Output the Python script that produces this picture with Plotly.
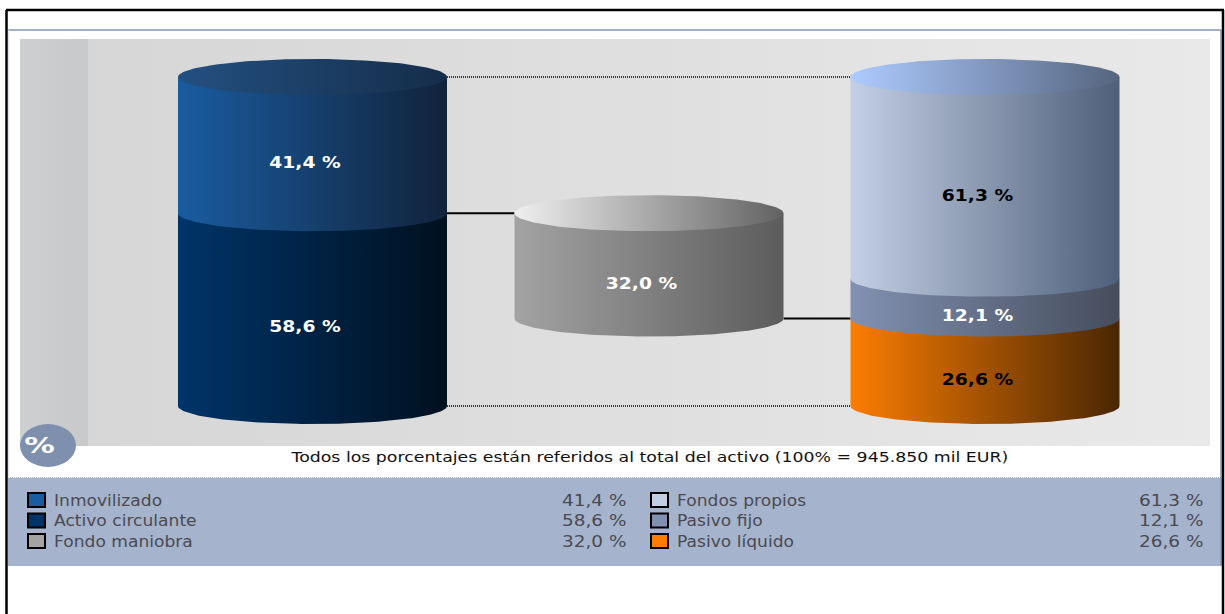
import numpy as np
import plotly.graph_objects as go

# ---- data ----
left_names = ["Inmovilizado", "Activo circulante"]
left_values = [41.4, 58.6]
middle_names = ["Fondo maniobra"]
middle_values = [32.0]
right_names = ["Fondos propios", "Pasivo fijo", "Pasivo líquido"]
right_values = [61.3, 12.1, 26.6]
note = "Todos los porcentajes están referidos al total del activo (100% = 945.850 mil EUR)"

# ---- styles ----
SIDE = {
    "Inmovilizado": ("#1a5ca0", "#11233b"),
    "Activo circulante": ("#003469", "#00101f"),
    "Fondo maniobra": ("#a3a3a3", "#5c5c5c"),
    "Fondos propios": ("#c3cfe4", "#4f5f7a"),
    "Pasivo fijo": ("#8291b2", "#454d5c"),
    "Pasivo líquido": ("#fb7d02", "#492603"),
}
TOP = {
    "left": ("#235081", "#152d49"),
    "middle": ("#efefef", "#626262"),
    "right": ("#aecbff", "#55657f"),
}
LABEL_COL = {
    "Inmovilizado": "white", "Activo circulante": "white", "Fondo maniobra": "white",
    "Fondos propios": "black", "Pasivo fijo": "white", "Pasivo líquido": "black",
}
W, H = 1225, 614
Y0_PX, PX_PER_PCT = 406.0, 3.29
HALF_W = 134.5
RY = 18.0 / PX_PER_PCT
LABEL_DY = 0.3
CENTERS = {"left": 312.5, "middle": 649.0, "right": 985.0}
LABEL_DX = -7.5

fmt = lambda v: f"{v:.1f}".replace(".", ",") + " %"
fig = go.Figure()


def grad(a, b):
    return dict(type="horizontal", colorscale=[[0, a], [1, b]])


def poly(xs, ys, colors, yaxis="y2"):
    fig.add_trace(go.Scatter(x=xs, y=ys, mode="lines", fill="toself", yaxis=yaxis,
                             line=dict(width=0), fillgradient=grad(*colors),
                             hoverinfo="skip", showlegend=False))


# chart panel backgrounds (pixel axis)
poly([20, 88, 88, 20, 20], [39, 39, 446, 446, 39], ("#cdcfd1", "#c8c9ca"), "y")
poly([88, 1210, 1210, 88, 88], [39, 39, 446, 446, 39], ("#d6d6d6", "#e9e9e9"), "y")


def cylinder(key, names, values, base=0.0):
    cx = CENTERS[key]
    t = np.linspace(0, np.pi, 90)
    ex = cx - HALF_W * np.cos(t)
    arc = RY * np.sin(t)
    tops = base + np.cumsum(values[::-1])
    bottoms = tops - np.array(values[::-1])
    for name, v, top, bot in zip(names[::-1], values[::-1], tops, bottoms):
        xs = [cx - HALF_W, cx + HALF_W] + list(ex[::-1]) + [cx - HALF_W]
        ys = [top, top] + list(bot - arc[::-1]) + [top]
        poly(xs, ys, SIDE[name])
    crown = tops[-1]
    tt = np.linspace(0, 2 * np.pi, 180)
    poly(cx - HALF_W * np.cos(tt), crown + RY * np.sin(tt), TOP[key])
    for name, v, top, bot in zip(names[::-1], values[::-1], tops, bottoms):
        fig.add_trace(go.Scatter(
            x=[cx + LABEL_DX], y=[(top + bot) / 2 - RY - LABEL_DY], mode="text", text=[fmt(v)], yaxis="y2",
            textposition="middle center", hoverinfo="skip", showlegend=False,
            textfont=dict(family="DejaVu Sans", size=15, color=LABEL_COL[name], weight="bold")))


def link(x0, x1, v, dash):
    fig.add_trace(go.Scatter(x=[x0, x1], y=[v, v], mode="lines", yaxis="y2",
                             line=dict(color="black", width=2 if dash == "solid" else 1.3, dash=dash),
                             hoverinfo="skip", showlegend=False))


left_x1 = CENTERS["left"] + HALF_W
right_x0 = CENTERS["right"] - HALF_W
mid_x0, mid_x1 = CENTERS["middle"] - HALF_W, CENTERS["middle"] + HALF_W
link(left_x1, right_x0, sum(left_values), "1px,1px")
link(left_x1, right_x0, 0, "1px,1px")
link(left_x1, mid_x0, left_values[1], "solid")
link(mid_x1, right_x0, right_values[2], "solid")

cylinder("left", left_names, left_values)
cylinder("middle", middle_names, middle_values, base=right_values[2])
cylinder("right", right_names, right_values)

shapes = [
    # legend band and separators
    dict(type="rect", x0=8, x1=1222, y0=478, y1=566, fillcolor="#a5b3cd", line_width=0, layer="below"),
    dict(type="line", x0=8, x1=1222, y0=477.5, y1=477.5, line=dict(color="#a9aeb8", width=1, dash="1px,1px")),
    dict(type="line", x0=8, x1=1221, y0=30, y1=30, line=dict(color="#8796b5", width=1.5)),
    dict(type="line", x0=1221, x1=1221, y0=30, y1=566, line=dict(color="#8796b5", width=1.5)),
    dict(type="line", x0=8.5, x1=8.5, y0=30, y1=478, line=dict(color="#dfe4ee", width=1)),
    # outer frame
    dict(type="line", x0=6.5, x1=6.5, y0=10, y1=614, line=dict(color="black", width=2.5)),
    dict(type="line", x0=1223, x1=1223, y0=10, y1=614, line=dict(color="black", width=2.5)),
    dict(type="line", x0=6, x1=1224, y0=10, y1=10, line=dict(color="black", width=2.5)),
    # % badge
    dict(type="circle", x0=20, x1=76, y0=424, y1=467, fillcolor="#7f8fae", line_width=0),
]

annotations = [
    dict(x=39.5, y=446, text="%", showarrow=False, xref="x", yref="y",
         font=dict(family="DejaVu Sans", size=21, color="white", weight="bold")),
    dict(x=649.5, y=456.5, text=note, showarrow=False, xref="x", yref="y",
         font=dict(family="DejaVu Sans", size=14.5, color="#111111")),
]

ROWS = [500.5, 521, 541.5]
cols = [
    (27, 52, 628, left_names + middle_names, left_values + middle_values),
    (650, 675, 1205, right_names, right_values),
]
for sx, tx, vx, names, values in cols:
    for ry, name, v in zip(ROWS, names, values):
        shapes.append(dict(type="rect", x0=sx + 1, x1=sx + 18, y0=ry - 7.5, y1=ry + 6.5,
                           fillcolor=SIDE[name][0], line=dict(color="black", width=2)))
        annotations.append(dict(x=tx, y=ry, text=name, xanchor="left", align="left", showarrow=False,
                                font=dict(family="DejaVu Sans", size=15, color="#4a4a52")))
        annotations.append(dict(x=vx, y=ry, text=fmt(v), xanchor="right", align="right", showarrow=False,
                                font=dict(family="DejaVu Sans", size=15, color="#4a4a52")))
for s in shapes:
    s.setdefault("xref", "x")
    s.setdefault("yref", "y")

fig.update_layout(
    width=W, height=H, margin=dict(l=0, r=0, t=0, b=0, pad=0),
    paper_bgcolor="white", plot_bgcolor="white", showlegend=False,
    xaxis=dict(range=[0, W], visible=False, fixedrange=True),
    yaxis=dict(range=[H, 0], visible=False, fixedrange=True),
    yaxis2=dict(range=[(Y0_PX - H) / PX_PER_PCT, Y0_PX / PX_PER_PCT], visible=False,
                overlaying="y", fixedrange=True),
    shapes=shapes, annotations=annotations,
)

# The reference's type is wider than any installed font: stretch the real text horizontally.
STRETCH_JS = """
document.body.style.margin='0';document.body.style.overflow='hidden';
function widen(el,f){var n=el.getComputedTextLength();
  el.setAttribute('textLength',n*f);el.setAttribute('lengthAdjust','spacingAndGlyphs');}
document.querySelectorAll('.annotation-text').forEach(function(el){
  var s=el.textContent;
  var f=s.indexOf('Todos')===0?1.195:(s==='%'?1.45:(/ %$/.test(s)?1.23:1.14));
  widen(el,f);});
document.querySelectorAll('.textpoint text').forEach(function(el){widen(el,1.245);});
"""
fig.write_html("out.html", config=dict(displayModeBar=False, responsive=False), post_script=STRETCH_JS)
